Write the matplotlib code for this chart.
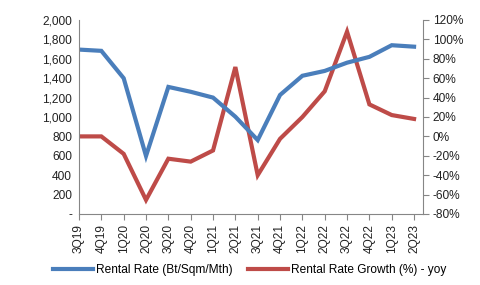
import matplotlib
matplotlib.use("Agg")
import matplotlib.pyplot as plt
from matplotlib.ticker import FuncFormatter, MultipleLocator

plt.rcParams['font.family'] = ['Liberation Sans', 'DejaVu Sans']

quarters = ['3Q19', '4Q19', '1Q20', '2Q20', '3Q20', '4Q20', '1Q21', '2Q21',
            '3Q21', '4Q21', '1Q22', '2Q22', '3Q22', '4Q22', '1Q23', '2Q23']
rental_rate = [1695, 1682, 1400, 598, 1310, 1260, 1200, 1003,
               762, 1227, 1425, 1475, 1560, 1620, 1740, 1725]
rate_growth = [0, 0, -18, -65.5, -23, -26, -14.5, 71.5,
               -40, -2.5, 20, 46.5, 108, 33, 22, 18]

blue = '#4A7EBB'
red = '#BE4B48'
grey = '#868686'
fs = 8.6

fig = plt.figure(figsize=(4.81, 2.85), dpi=100)
ax = fig.add_axes([79/481, 1-214/285, (423-79)/481, (214-20)/285])
ax2 = ax.twinx()

x = list(range(len(quarters)))
l1, = ax.plot(x, rental_rate, color=blue, lw=3, solid_joinstyle='miter',
              label='Rental Rate (Bt/Sqm/Mth)')
l2, = ax2.plot(x, rate_growth, color=red, lw=3, solid_joinstyle='miter',
               label='Rental Rate Growth (%) - yoy')
ax.set_zorder(ax2.get_zorder() + 1)
ax.patch.set_visible(False)

ax.set_xlim(0, 15.4)
ax.set_ylim(0, 2000)
ax2.set_ylim(-80, 120)
ax.yaxis.set_major_locator(MultipleLocator(200))
ax2.yaxis.set_major_locator(MultipleLocator(20))
ax.yaxis.set_major_formatter(FuncFormatter(lambda v, p: '-' if v == 0 else f'{v:,.0f}'))
ax2.yaxis.set_major_formatter(FuncFormatter(lambda v, p: f'{v:.0f}%'))

ax.set_xticks(x)
ax.set_xticklabels(quarters, rotation=90)

for a in (ax, ax2):
    a.spines['top'].set_visible(False)
    for s in ('left', 'right', 'bottom'):
        a.spines[s].set_color(grey)
    a.tick_params(labelsize=fs, colors=grey, labelcolor='#222222', length=3)
ax.spines['right'].set_visible(False)
ax2.spines['left'].set_visible(False)
ax2.spines['bottom'].set_visible(False)
ax.tick_params(axis='y', length=0, pad=5)
ax.tick_params(axis='x', length=4, pad=3)
ax2.tick_params(axis='y', length=4, pad=3)

fig.legend(handles=[l1, l2], loc='center', bbox_to_anchor=(250/481, 1 - 270/285),
           ncol=2, frameon=False, fontsize=fs, handlelength=3.3,
           columnspacing=1.3, handletextpad=0.3)

fig.savefig('out.png', dpi=100)
